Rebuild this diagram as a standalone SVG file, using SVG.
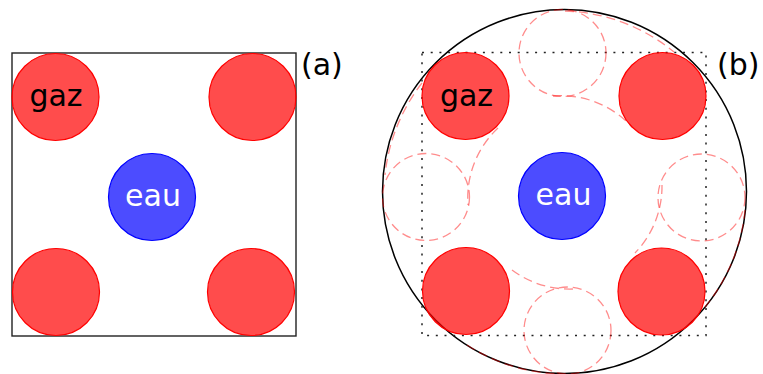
<svg xmlns="http://www.w3.org/2000/svg" width="763" height="374" viewBox="0 0 763 374">
<style>
.gas{fill:#ff0000;fill-opacity:0.7;stroke:#ff0000;stroke-width:1.2}
.water{fill:#0000ff;fill-opacity:0.7;stroke:#0000ff;stroke-width:1.2}
.ghost{fill:none;stroke:#ff0000;stroke-opacity:0.45;stroke-width:1.3;stroke-dasharray:9,5}
.lbl{font-family:"DejaVu Sans",Verdana,sans-serif;font-size:30px}
.mid{text-anchor:middle}
</style>
<rect width="763" height="374" fill="#ffffff"/>
<g id="panel-a">
  <rect id="cell-a" x="12" y="53" width="284" height="283" fill="none" stroke="#222222" stroke-width="1.4"/>
  <g id="a-gaz-tl"><circle class="gas" cx="55.5" cy="97" r="43.5"/><text class="lbl mid" x="56" y="106" fill="#000">gaz</text></g>
  <g id="a-gaz-tr"><circle class="gas" cx="252.5" cy="97" r="43.5"/></g>
  <g id="a-eau"><circle class="water" cx="152" cy="197" r="43.5"/><text class="lbl mid" x="153" y="205.5" fill="#fff">eau</text></g>
  <g id="a-gaz-bl"><circle class="gas" cx="56" cy="292" r="43.5"/></g>
  <g id="a-gaz-br"><circle class="gas" cx="251" cy="292" r="43.5"/></g>
  <text id="label-a" class="lbl" x="301" y="75" fill="#000">(a)</text>
</g>
<g id="panel-b">
  <circle id="outer-circle" cx="564.5" cy="191.5" r="182" fill="none" stroke="#000" stroke-width="1.5"/>
  <rect id="cell-b" x="422" y="52.5" width="284" height="283" fill="none" stroke="#222222" stroke-width="1.5" stroke-dasharray="2,6.7"/>
  <g id="trajectories">
    <circle class="ghost" cx="562.5" cy="53" r="43.5"/>
    <circle class="ghost" cx="426" cy="197" r="43.5"/>
    <circle class="ghost" cx="701.5" cy="197.5" r="43.5"/>
    <circle class="ghost" cx="567.5" cy="330.5" r="43.5"/>
    <path class="ghost" d="M553 96 A96 96 0 0 1 632 127"/>
    <path class="ghost" d="M565 11 A180 180 0 0 1 674 52"/>
    <path class="ghost" d="M498 128 A96 96 0 0 0 468 205"/>
    <path class="ghost" d="M422 83 A180 180 0 0 0 385 175"/>
    <path class="ghost" d="M662 185 A96 96 0 0 1 635 253"/>
    <path class="ghost" d="M745 210 A180 180 0 0 1 705 307"/>
    <path class="ghost" d="M512 270 A96 96 0 0 0 573 289"/>
    <path class="ghost" d="M467 345 A180 180 0 0 0 560 374"/>
  </g>
  <g id="b-gaz-tl"><circle class="gas" cx="465.5" cy="96" r="43.5"/><text class="lbl mid" x="466.5" y="106" fill="#000">gaz</text></g>
  <g id="b-gaz-tr"><circle class="gas" cx="662.5" cy="96" r="43.5"/></g>
  <g id="b-eau"><circle class="water" cx="562" cy="196" r="43.5"/><text class="lbl mid" x="563.5" y="204.5" fill="#fff">eau</text></g>
  <g id="b-gaz-bl"><circle class="gas" cx="466" cy="291" r="43.5"/></g>
  <g id="b-gaz-br"><circle class="gas" cx="661.5" cy="291.5" r="43.5"/></g>
  <text id="label-b" class="lbl" x="717" y="75" fill="#000">(b)</text>
</g>
</svg>
